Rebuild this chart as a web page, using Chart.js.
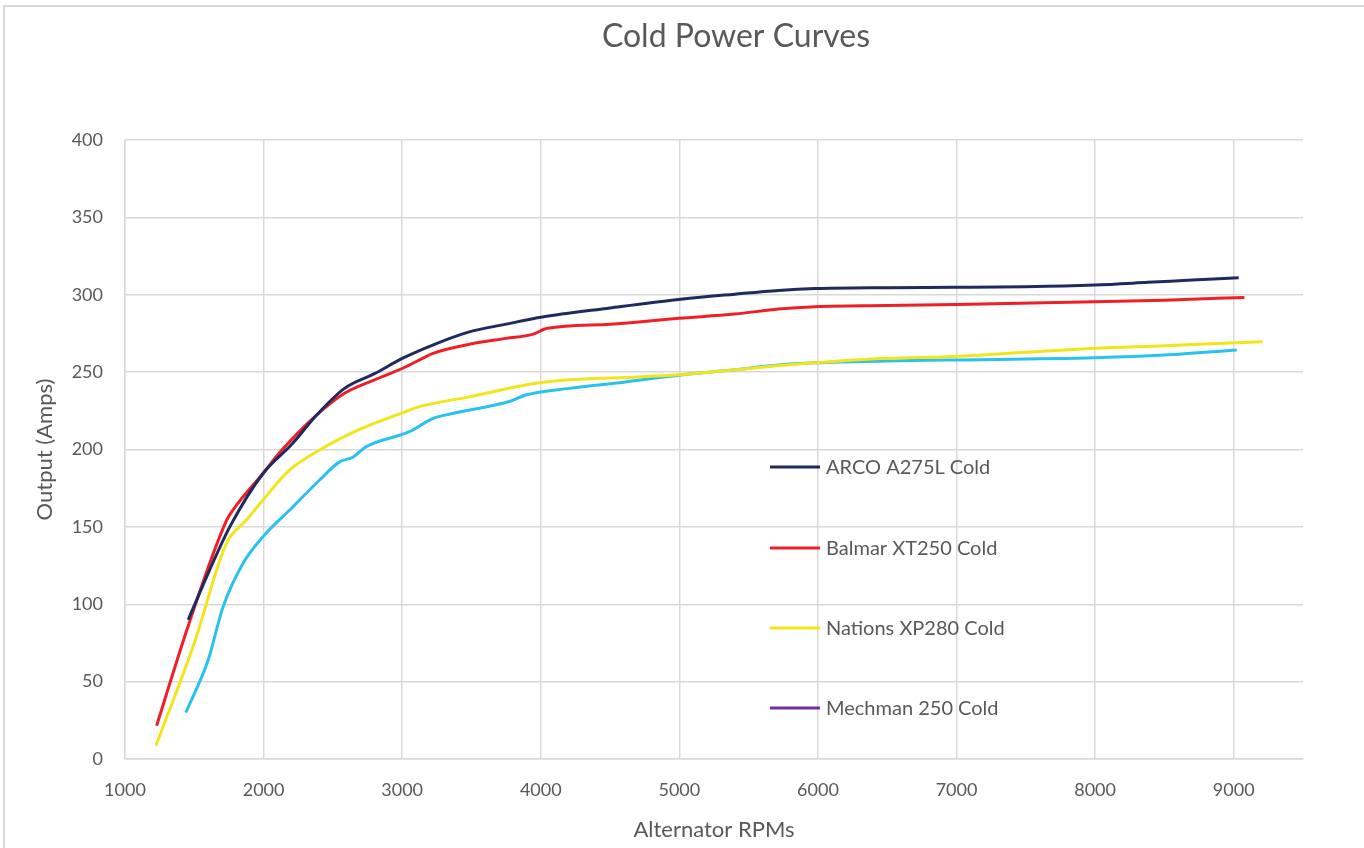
<!DOCTYPE html>
<html>
<head>
<meta charset="utf-8">
<script src="https://cdn.jsdelivr.net/npm/chart.js@4/dist/chart.umd.min.js"></script>
<style>
html,body{margin:0;padding:0;background:#fff;}
#wrap{width:1364px;height:848px;position:relative;}
</style>
</head>
<body>
<div id="wrap"><canvas id="c" width="1364" height="848"></canvas></div>
<script>
const chartTitle = "Cold Power Curves";
const xTitle = "Alternator RPMs";
const yTitle = "Output (Amps)";

const arcoLabel = "ARCO A275L Cold";
const arcoRpm  = [1456, 1600, 1756, 2000, 2200, 2380, 2584, 2800, 3004, 3220, 3484, 3750, 4000, 4500, 4996, 5400, 5716, 5980, 6500, 7000, 7500, 7997, 8381, 8700, 9036];
const arcoAmps = [90, 120, 150, 185, 203, 222, 239.5, 249, 259, 267.5, 276, 281, 285.5, 291.5, 297, 300.4, 302.8, 304, 304.6, 304.8, 305.2, 306.3, 308, 309.5, 311];

const balmarLabel = "Balmar XT250 Cold";
const balmarRpm  = [1228, 1456, 1732, 1780, 2000, 2116, 2380, 2584, 2800, 3004, 3150, 3218, 3484, 3750, 3940, 4048, 4500, 4996, 5400, 5716, 5980, 6500, 7000, 7997, 8500, 9077];
const balmarAmps = [21.5, 86, 154, 161, 185, 198, 222, 236.3, 245, 252.5, 259, 262, 268, 271.8, 274.4, 278.3, 281, 284.8, 287.5, 290.8, 292.3, 293, 293.7, 295.4, 296.5, 298.3];

const nationsLabel = "Nations XP280 Cold";
const nationsRpm  = [1223, 1500, 1732, 1876, 1996, 2188, 2404, 2692, 2788, 3004, 3124, 3484, 3892, 4204, 4600, 4996, 5500, 5980, 6500, 6940, 7500, 7997, 8500, 9208];
const nationsAmps = [8.6, 75, 139.4, 154.4, 167.4, 186.8, 199.7, 213, 216.5, 223.8, 227.7, 234, 241.7, 245, 246.5, 248.3, 252.4, 256, 258.9, 260, 262.8, 265.4, 267, 269.7];

const mechmanLabel = "Mechman 250 Cold";
const mechmanRpm  = [];
const mechmanAmps = [];

const unlabeledLabel = "Series 5";
const unlabeledRpm  = [1439, 1600, 1708, 1852, 1996, 2212, 2404, 2548, 2644, 2740, 3052, 3220, 3364, 3772, 3892, 4204, 4600, 4996, 5400, 5716, 5980, 6500, 6940, 7997, 8500, 9022];
const unlabeledAmps = [30, 64, 98.4, 126.5, 143.7, 163, 180.3, 192, 195, 201.8, 211.5, 220, 223.3, 231, 235.2, 239.5, 243.5, 248, 251.5, 254.6, 256, 257.2, 257.8, 259.3, 261, 264.3];

const xTicks = [1000, 2000, 3000, 4000, 5000, 6000, 7000, 8000, 9000];
const yTicks = [0, 50, 100, 150, 200, 250, 300, 350, 400];

function pts(xs, ys){ return xs.map((x,i)=>({x:x, y:ys[i]})); }

const FONT = "Lato, 'Open Sans', sans-serif";
const TXT = "#595959";
const GRID = "#d9d9d9";

const series = [
  {label: arcoLabel, data: pts(arcoRpm, arcoAmps), color: "#1f2a5e", legend: true},
  {label: balmarLabel, data: pts(balmarRpm, balmarAmps), color: "#ee1f26", legend: true},
  {label: nationsLabel, data: pts(nationsRpm, nationsAmps), color: "#f2e51c", legend: true},
  {label: mechmanLabel, data: pts(mechmanRpm, mechmanAmps), color: "#7030a0", legend: true},
  {label: unlabeledLabel, data: pts(unlabeledRpm, unlabeledAmps), color: "#29c2ef", legend: false}
];

const legendPlugin = {
  id: 'insideLegend',
  afterDatasetsDraw(chart){
    const ctx = chart.ctx;
    const ys = [467, 548, 628, 708];
    let k = 0;
    ctx.save();
    chart.data.datasets.forEach(ds => {
      if (!ds.showInLegend) return;
      const y = ys[k++];
      ctx.strokeStyle = ds.borderColor;
      ctx.lineWidth = 3;
      ctx.beginPath(); ctx.moveTo(770, y); ctx.lineTo(820, y); ctx.stroke();
      ctx.fillStyle = TXT;
      ctx.font = "20px " + FONT;
      ctx.textBaseline = "middle";
      ctx.textAlign = "left";
      ctx.fillText(ds.label, 826, y + 1);
    });
    ctx.restore();
  }
};

const framePlugin = {
  id: 'frame',
  beforeDraw(chart){
    const ctx = chart.ctx;
    ctx.save();
    ctx.fillStyle = "#fff";
    ctx.fillRect(0,0,chart.width,chart.height);
    ctx.strokeStyle = "#d9d9d9";
    ctx.lineWidth = 2;
    ctx.strokeRect(4, 6, 1400, 900);
    ctx.fillStyle = TXT;
    ctx.font = "32px " + FONT;
    ctx.textAlign = "center";
    ctx.textBaseline = "middle";
    ctx.fillText(chartTitle, 736, 37);
    ctx.restore();
  }
};

new Chart(document.getElementById('c'), {
  type: 'line',
  data: {
    datasets: series.map(s => ({
      label: s.label,
      data: s.data,
      borderColor: s.color,
      backgroundColor: s.color,
      borderWidth: 3,
      pointRadius: 0,
      fill: false,
      cubicInterpolationMode: 'monotone',
      showInLegend: s.legend
    }))
  },
  options: {
    responsive: false,
    animation: false,
    parsing: true,
    layout: { padding: { top: 140, right: 61, bottom: 0, left: 0 } },
    plugins: {
      legend: { display: false },
      title: { display: false },
      tooltip: { enabled: false }
    },
    scales: {
      x: {
        type: 'linear',
        min: 1000, max: 9500,
        afterBuildTicks(scale){ scale.ticks = xTicks.map(v => ({value: v})); },
        afterFit(scale){ scale.height = 89; },
        ticks: { padding: 20, color: TXT, font: { family: FONT, size: 18 }, callback: v => String(v) },
        grid: { color: GRID, lineWidth: 1.5, drawTicks: false },
        border: { color: GRID, width: 1.5 },
        title: { display: true, text: xTitle, color: TXT, font: { family: FONT, size: 22 }, padding: { top: 0, bottom: 5 } }
      },
      y: {
        type: 'linear',
        min: 0, max: 400,
        afterBuildTicks(scale){ scale.ticks = yTicks.map(v => ({value: v})); },
        afterFit(scale){ scale.width = 125; },
        ticks: { padding: 22, color: TXT, font: { family: FONT, size: 18 } },
        grid: { color: GRID, lineWidth: 1.5, drawTicks: false },
        border: { color: GRID, width: 1.5 },
        title: { display: true, text: yTitle, color: TXT, font: { family: FONT, size: 22 }, padding: { top: 32, bottom: 0 } }
      }
    }
  },
  plugins: [framePlugin, legendPlugin]
});
</script>
</body>
</html>
